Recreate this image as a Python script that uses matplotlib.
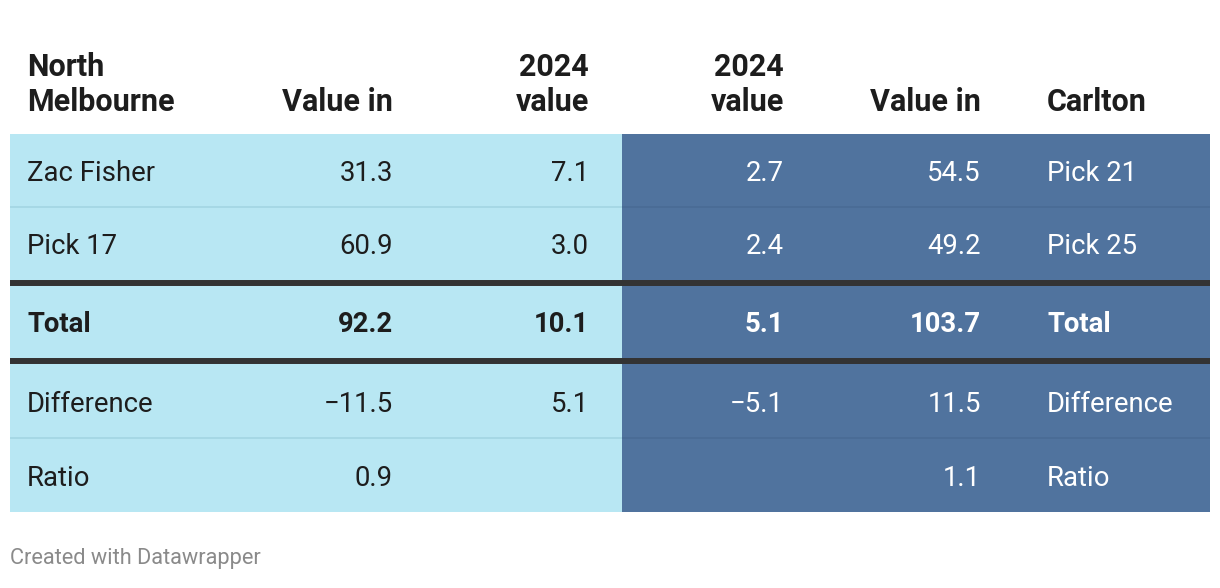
import matplotlib.pyplot as plt
from matplotlib.patches import Rectangle

plt.rcParams["font.family"] = ["Roboto", "DejaVu Sans"]

# table content
headers = [["North", "Melbourne"], ["Value in"], ["2024", "value"],
           ["2024", "value"], ["Value in"], ["Carlton"]]
left_labels = ["Zac Fisher", "Pick 17", "Total", "Difference", "Ratio"]
nm_value_in = [31.3, 60.9, 92.2, -11.5, 0.9]
nm_2024_value = [7.1, 3.0, 10.1, 5.1, None]
carlton_2024_value = [2.7, 2.4, 5.1, -5.1, None]
carlton_value_in = [54.5, 49.2, 103.7, 11.5, 1.1]
right_labels = ["Pick 21", "Pick 25", "Total", "Difference", "Ratio"]
bold_rows = [False, False, True, False, False]

LIGHT = "#b8e7f3"
DARK = "#50739e"
TEXT = "#1d1d1d"


def fmt(v):
    if v is None:
        return ""
    return f"{v:.1f}".replace("-", "\u2212")


W, H = 1220, 588
fig = plt.figure(figsize=(W / 100, H / 100), dpi=100)
ax = fig.add_axes([0, 0, 1, 1])
ax.set_xlim(0, W)
ax.set_ylim(H, 0)
ax.axis("off")

# layout (pixels)
x_left, x_split, x_right = 10, 622, 1210
top, bottom = 134, 512
# row bounds (top, bottom)
rows = [(134, 207), (207, 280), (286, 358), (364, 438), (438, 512)]
thick_lines = [283, 361]
thin_lines = [207, 438]
col_x = [27, 393, 589, 784, 981, 1047]
col_ha = ["left", "right", "right", "right", "right", "left"]
fs = 19.8
fs_head = 22

ax.add_patch(Rectangle((x_left, top), x_split - x_left, bottom - top,
                       facecolor=LIGHT, edgecolor="none"))
ax.add_patch(Rectangle((x_split, top), x_right - x_split, bottom - top,
                       facecolor=DARK, edgecolor="none"))

for y in thin_lines:
    ax.plot([x_left, x_split], [y, y], color="#a3d6e3", lw=1.2,
            solid_capstyle="butt")
    ax.plot([x_split, x_right], [y, y], color="#496b95", lw=1.2,
            solid_capstyle="butt")
for y in thick_lines:
    ax.plot([x_left, x_right], [y, y], color="#333333", lw=4.3,
            solid_capstyle="butt")

# header
line_gap = 35.5
base_last = 111
for x, ha, lines in zip(col_x, col_ha, headers):
    n = len(lines)
    for i, t in enumerate(lines):
        y = base_last - (n - 1 - i) * line_gap
        ax.text(x, y, t, ha=ha, va="baseline", fontsize=fs_head,
                fontweight="bold", color=TEXT)

# body
columns = [left_labels, [fmt(v) for v in nm_value_in],
           [fmt(v) for v in nm_2024_value],
           [fmt(v) for v in carlton_2024_value],
           [fmt(v) for v in carlton_value_in], right_labels]
for c, (x, ha, vals) in enumerate(zip(col_x, col_ha, columns)):
    color = TEXT if c < 3 else "white"
    for r, (t, b) in enumerate(rows):
        y = (t + b) / 2 + 10.5
        ax.text(x, y, vals[r], ha=ha, va="baseline", fontsize=fs,
                fontweight="bold" if bold_rows[r] else "normal", color=color)

ax.text(10, 564, "Created with Datawrapper", ha="left", va="baseline",
        fontsize=15.7, color="#8a8a8a")

fig.savefig("out.png", dpi=100)
